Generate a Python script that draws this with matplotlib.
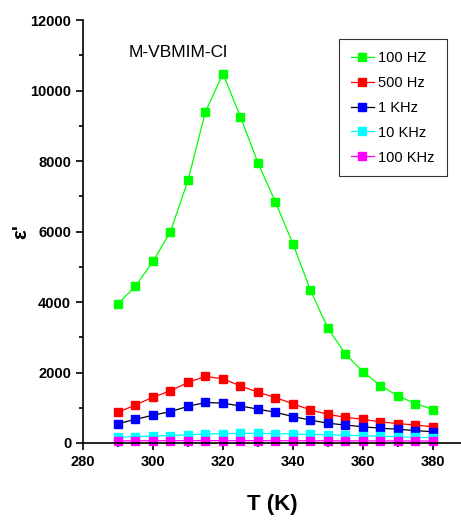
import matplotlib
matplotlib.use("Agg")
import matplotlib.pyplot as plt
from matplotlib.ticker import MultipleLocator

plt.rcParams['font.family'] = ['Liberation Sans', 'DejaVu Sans']

# temperature (K)
T = [290, 295, 300, 305, 310, 315, 320, 325, 330, 335,
     340, 345, 350, 355, 360, 365, 370, 375, 380]

# dielectric constant at each frequency
eps_100hz = [3950, 4450, 5150, 6000, 7450, 9400, 10480, 9250, 7950, 6830,
             5650, 4330, 3250, 2520, 2020, 1630, 1330, 1120, 950]
eps_500hz = [870, 1080, 1300, 1480, 1720, 1890, 1820, 1620, 1440, 1290,
             1110, 940, 810, 730, 670, 600, 550, 510, 460]
eps_1khz = [550, 670, 790, 890, 1040, 1150, 1130, 1050, 960, 870,
            750, 650, 560, 510, 460, 420, 390, 350, 320]
eps_10khz = [160, 180, 200, 210, 235, 255, 265, 275, 275, 265,
             255, 245, 235, 215, 210, 190, 180, 160, 150]
eps_100khz = [60, 62, 64, 65, 66, 67, 67, 67, 66, 65,
              64, 63, 62, 61, 60, 59, 58, 57, 56]

labels = ['100 HZ', '500 Hz', '1 KHz', '10 KHz', '100 KHz']

fig = plt.figure(figsize=(4.61, 5.28), dpi=100)
ax = fig.add_axes([0.18, 0.161, 0.82, 0.801])

series = [
    (eps_100hz, '#00ff00', '#00ff00'),
    (eps_500hz, '#ff0000', '#ff0000'),
    (eps_1khz, '#000000', '#0000ff'),
    (eps_10khz, '#00ffff', '#00ffff'),
    (eps_100khz, '#ff00ff', '#ff00ff'),
]
for (vals, lc, mc), lab in zip(series, labels):
    ax.plot(T, vals, '-', color=lc, lw=0.9, marker='s', ms=6,
            mfc=mc, mec=mc, label=lab, clip_on=False)

ax.set_xlim(280, 388)
ax.set_ylim(0, 12000)
ax.xaxis.set_major_locator(MultipleLocator(20))
ax.xaxis.set_minor_locator(MultipleLocator(10))
ax.yaxis.set_major_locator(MultipleLocator(2000))
ax.yaxis.set_minor_locator(MultipleLocator(1000))
ax.spines['top'].set_visible(False)
ax.spines['right'].set_visible(False)
for s in ['left', 'bottom']:
    ax.spines[s].set_linewidth(1.2)
ax.tick_params(which='major', length=5, width=1.2, labelsize=10.5)
ax.tick_params(which='minor', length=3, width=1.2)
for t in ax.get_xticklabels() + ax.get_yticklabels():
    t.set_fontweight('bold')

ax.set_xlabel('T (K)', fontsize=16, fontweight='bold', labelpad=18)
ax.set_ylabel("ε'", fontsize=15, fontweight='bold')
ax.yaxis.set_label_coords(-0.14, 0.5)

ax.text(293, 10950, 'M-VBMIM-Cl', fontsize=12.5)

leg = ax.legend(loc='upper right', bbox_to_anchor=(0.962, 0.955), fontsize=10.5,
                frameon=True, fancybox=False, edgecolor='black',
                handlelength=1.6, handletextpad=0.3, borderpad=0.8,
                labelspacing=0.75, markerscale=0.9, borderaxespad=0)
leg.get_frame().set_linewidth(0.8)

fig.savefig('out.png', dpi=100)
